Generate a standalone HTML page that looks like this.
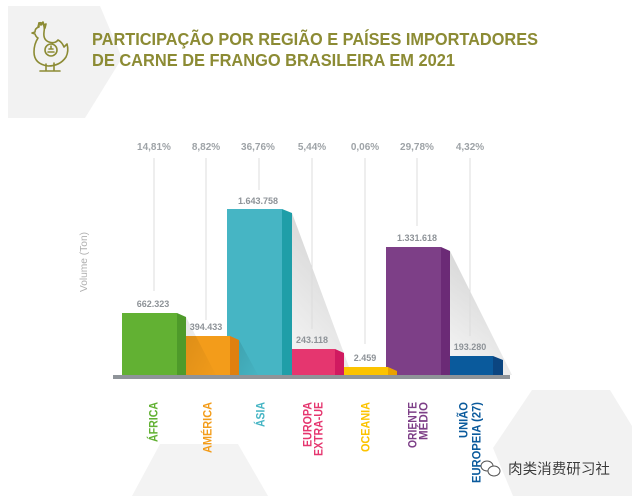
<!DOCTYPE html>
<html><head><meta charset="utf-8"><style>
html,body{margin:0;padding:0;background:#fff;}
svg{display:block;}
text{font-family:"Liberation Sans","Noto Sans CJK SC",sans-serif;}
</style></head><body>
<svg width="632" height="496" viewBox="0 0 632 496" xmlns="http://www.w3.org/2000/svg">
<defs>
<linearGradient id="sh" x1="0.4" y1="0" x2="0" y2="1">
<stop offset="0" stop-color="#d4d4d4"/><stop offset="1" stop-color="#f8f8f8"/>
</linearGradient>
<linearGradient id="sh2" x1="0" y1="0" x2="1" y2="1">
<stop offset="0" stop-color="#000" stop-opacity="0.10"/><stop offset="1" stop-color="#000" stop-opacity="0.01"/>
</linearGradient>
</defs>
<rect width="632" height="496" fill="#fff"/>
<!-- background shapes -->
<polygon points="8,6 100,6 122,58 85,118 8,118" fill="#f2f2f2"/>
<polygon points="532,390 610,390 632,426 632,496 513,496 493,448" fill="#f2f2f2"/>
<polygon points="160,444 238,444 268,496 132,496" fill="#f3f3f3"/>

<!-- chicken icon -->
<g stroke="#8c8b34" fill="none" stroke-width="1.6" stroke-linecap="round" stroke-linejoin="round">
<path d="M38,27 l1,-4 l2,2 l2,-3 l1,3 l2,-1 l-1,4"/>
<path d="M39,27 q-4,1 -4,5 l-3,1 l3,1 q1,3 3,4 q-4,6 -4,14 q0,12 14,14 q12,0 18,-9 q3,-6 1,-13 l-3,3 q-2,-5 -6,-7 q-3,4 -9,2 q-6,-2 -5,-10 q1,-5 -1,-8 q-2,-2 -4,-1 z"/>
<circle cx="51" cy="50" r="6"/>
<path d="M48,52 h6 M49,49 h4 M51,46 v2"/>
<path d="M46,64 v6 M54,63 v7 M40,71 h20"/>
</g>

<!-- title -->
<text x="92" y="45" font-size="17.5" font-weight="bold" fill="#8c8b34" textLength="446" lengthAdjust="spacingAndGlyphs">PARTICIPAÇÃO POR REGIÃO E PAÍSES IMPORTADORES</text>
<text x="92" y="66" font-size="17.5" font-weight="bold" fill="#8c8b34" textLength="363" lengthAdjust="spacingAndGlyphs">DE CARNE DE FRANGO BRASILEIRA EM 2021</text>

<!-- percent labels -->
<g font-size="10" font-weight="bold" fill="#9ea3a7" text-anchor="middle">
<text x="154" y="150">14,81%</text>
<text x="206" y="150">8,82%</text>
<text x="258" y="150">36,76%</text>
<text x="312" y="150">5,44%</text>
<text x="365" y="150">0,06%</text>
<text x="417" y="150">29,78%</text>
<text x="470" y="150">4,32%</text>
</g>

<!-- y axis label -->
<text transform="translate(87,262) rotate(-90)" font-size="10.2" fill="#b0b0b0" text-anchor="middle">Volume (Ton)</text>

<!-- teal (back) -->
<rect x="227" y="209" width="55" height="166" fill="#46b5c4"/>
<polygon points="282,209 292,213 292,375 282,375" fill="#1f9ea8"/>
<polygon points="292,213 352,375 292,375" fill="url(#sh)"/>
<!-- purple (back) -->
<rect x="386" y="247" width="55" height="128" fill="#7d3f87"/>
<polygon points="441,247 450,251 450,375 441,375" fill="#6b2a76"/>
<polygon points="450,251 512,375 450,375" fill="url(#sh)"/>

<!-- leader lines -->
<g stroke="#dcdcdc" stroke-width="1">
<line x1="154" y1="158" x2="154" y2="291"/>
<line x1="206" y1="158" x2="206" y2="320"/>
<line x1="259" y1="158" x2="259" y2="190"/>
<line x1="312" y1="158" x2="312" y2="329"/>
<line x1="365" y1="158" x2="365" y2="344"/>
<line x1="417" y1="158" x2="417" y2="226"/>
<line x1="470" y1="158" x2="470" y2="336"/>
</g>

<!-- green -->
<rect x="122" y="313" width="55" height="62" fill="#62b133"/>
<polygon points="177,313 186,317 186,375 177,375" fill="#4e9a2a"/>
<!-- orange -->
<rect x="186" y="336" width="44" height="39" fill="#f39c1a"/>
<polygon points="230,336 239,340 239,375 230,375" fill="#e0800f"/>
<polygon points="186,317 216,375 186,375" fill="url(#sh2)"/>
<polygon points="239,340 258,375 239,375" fill="url(#sh2)"/>
<!-- pink -->
<rect x="292" y="349" width="43" height="26" fill="#e5366f"/>
<polygon points="335,349 344,353 344,375 335,375" fill="#d01a60"/>
<!-- yellow -->
<rect x="344" y="367" width="44" height="8" fill="#fcc300"/>
<polygon points="388,367 397,371 397,375 388,375" fill="#e9a100"/>
<!-- blue -->
<rect x="450" y="356" width="43" height="19" fill="#0a5a9c"/>
<polygon points="493,356 503,360 503,375 493,375" fill="#0b4580"/>

<!-- axis -->
<rect x="113" y="375" width="397" height="4" fill="#8f9499"/>

<!-- value labels -->
<g font-size="9" font-weight="bold" fill="#8e9398" text-anchor="middle">
<text x="153" y="307">662.323</text>
<text x="206" y="330">394.433</text>
<text x="258" y="204">1.643.758</text>
<text x="312" y="343">243.118</text>
<text x="365" y="361">2.459</text>
<text x="417" y="241">1.331.618</text>
<text x="470" y="350">193.280</text>
</g>

<!-- category labels -->
<g font-size="11.5" font-weight="bold" text-anchor="end">
<text transform="translate(157.5,402) rotate(-90)" fill="#62b133" textLength="40" lengthAdjust="spacingAndGlyphs">ÁFRICA</text>
<text transform="translate(211.5,402) rotate(-90)" fill="#f39c1a" textLength="51" lengthAdjust="spacingAndGlyphs">AMÉRICA</text>
<text transform="translate(264.5,402) rotate(-90)" fill="#46b5c4" textLength="25" lengthAdjust="spacingAndGlyphs">ÁSIA</text>
<text transform="translate(311.5,402) rotate(-90)" fill="#e5366f" textLength="45" lengthAdjust="spacingAndGlyphs">EUROPA</text>
<text transform="translate(322.5,402) rotate(-90)" fill="#e5366f" textLength="54" lengthAdjust="spacingAndGlyphs">EXTRA-UE</text>
<text transform="translate(369.5,402) rotate(-90)" fill="#fcc300" textLength="50" lengthAdjust="spacingAndGlyphs">OCEANIA</text>
<text transform="translate(416.5,402) rotate(-90)" fill="#7d3f87" textLength="46" lengthAdjust="spacingAndGlyphs">ORIENTE</text>
<text transform="translate(427.5,402) rotate(-90)" fill="#7d3f87" textLength="38" lengthAdjust="spacingAndGlyphs">MÉDIO</text>
<text transform="translate(467.5,402) rotate(-90)" fill="#0a5a9c" textLength="36" lengthAdjust="spacingAndGlyphs">UNIÃO</text>
<text transform="translate(480.5,402) rotate(-90)" fill="#0a5a9c" textLength="81" lengthAdjust="spacingAndGlyphs">EUROPEIA (27)</text>
</g>

<!-- watermark -->
<g fill="#fff" stroke="#555" stroke-width="1">
<ellipse cx="487" cy="466" rx="6" ry="5"/>
<ellipse cx="494" cy="471" rx="6" ry="5"/>
</g>
<text x="508" y="474" font-size="14.5" fill="#3a3a3a" stroke="#fff" stroke-width="0.6" paint-order="stroke" font-family="'Liberation Sans','Noto Sans CJK SC',sans-serif" textLength="102" lengthAdjust="spacingAndGlyphs">肉类消费研习社</text>
</svg>
</body></html>
